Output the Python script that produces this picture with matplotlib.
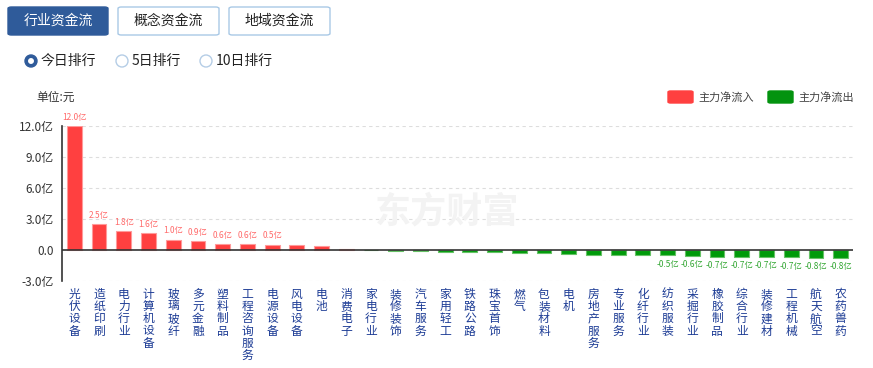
import matplotlib
matplotlib.use("Agg")
import matplotlib.pyplot as plt
from matplotlib.patches import FancyBboxPatch, Ellipse
import numpy as np

plt.rcParams['font.family'] = ['Noto Sans CJK SC', 'DejaVu Sans']

categories = ["光伏设备", "造纸印刷", "电力行业", "计算机设备", "玻璃玻纤", "多元金融", "塑料制品",
              "工程咨询服务", "电源设备", "风电设备", "电池", "消费电子", "家电行业", "装修装饰",
              "汽车服务", "家用轻工", "铁路公路", "珠宝首饰", "燃气", "包装材料", "电机",
              "房地产服务", "专业服务", "化纤行业", "纺织服装", "采掘行业", "橡胶制品", "综合行业",
              "装修建材", "工程机械", "航天航空", "农药兽药"]
values = [12.0, 2.5, 1.8, 1.6, 1.0, 0.9, 0.6, 0.6, 0.52, 0.5, 0.35, 0.05, -0.02, -0.13,
          -0.13, -0.16, -0.23, -0.23, -0.32, -0.32, -0.42, -0.45, -0.45, -0.45, -0.52, -0.6,
          -0.66, -0.68, -0.7, -0.72, -0.76, -0.8]
value_labels = ["12.0亿", "2.5亿", "1.8亿", "1.6亿", "1.0亿", "0.9亿", "0.6亿", "0.6亿", "0.5亿",
                "", "", "", "", "", "", "", "", "", "", "", "", "", "", "",
                "-0.5亿", "-0.6亿", "-0.7亿", "-0.7亿", "-0.7亿", "-0.7亿", "-0.8亿", "-0.8亿"]
yticks = [-3, 0, 3, 6, 9, 12]
ytick_labels = ["-3.0亿", "0.0", "3.0亿", "6.0亿", "9.0亿", "12.0亿"]

W, H = 873, 368
fig = plt.figure(figsize=(W / 100, H / 100), dpi=100)
fig.patch.set_facecolor('white')


def fx(x):
    return x / W


def fy(y):
    return 1 - y / H


# Buttons
btns = [("行业资金流", 8, 108, True), ("概念资金流", 118, 219, False), ("地域资金流", 229, 330, False)]
for txt, x0, x1, active in btns:
    p = FancyBboxPatch((fx(x0), fy(35)), fx(x1 - x0), (35 - 7) / H,
                       boxstyle="round,pad=0,rounding_size=0.004",
                       transform=fig.transFigure,
                       facecolor='#2f5b9a' if active else 'white',
                       edgecolor='#2f5b9a' if active else '#a9c9e6', linewidth=1)
    fig.patches.append(p)
    fig.text(fx((x0 + x1) / 2), fy(21), txt, ha='center', va='center', fontsize=10,
             color='white' if active else '#222222')

# Radio buttons
radios = [("今日排行", 31, True), ("5日排行", 122, False), ("10日排行", 206, False)]
for txt, cx, on in radios:
    if on:
        fig.patches.append(Ellipse((fx(cx), fy(61)), 12 / W, 12 / H, transform=fig.transFigure,
                                   facecolor='#2f5b9a', edgecolor='#2f5b9a'))
        fig.patches.append(Ellipse((fx(cx), fy(61)), 4.5 / W, 4.5 / H, transform=fig.transFigure,
                                   facecolor='white', edgecolor='white'))
    else:
        fig.patches.append(Ellipse((fx(cx), fy(61)), 12 / W, 12 / H, transform=fig.transFigure,
                                   facecolor='white', edgecolor='#b5cde6', linewidth=1))
    fig.text(fx(cx + 10), fy(61), txt, ha='left', va='center', fontsize=10, color='#222222')

# Unit label
fig.text(fx(36), fy(97), "单位:元", ha='left', va='center', fontsize=8.5, color='#333333')

# Legend
for x0, col, txt in [(668, '#ff4040', "主力净流入"), (768, '#03930f', "主力净流出")]:
    p = FancyBboxPatch((fx(x0), fy(103)), fx(25), 12 / H,
                       boxstyle="round,pad=0,rounding_size=0.003",
                       transform=fig.transFigure, facecolor=col, edgecolor=col)
    fig.patches.append(p)
    fig.text(fx(x0 + 30), fy(97), txt, ha='left', va='center', fontsize=8, color='#444444')

# Watermark
fig.text(fx(447), fy(212), "东方财富", ha='center', va='center', fontsize=26,
         fontweight='bold', color='#f3f3f3', zorder=0)

# Axes
ax = fig.add_axes([fx(62), fy(281), fx(853 - 62), (281 - 126) / H])
ax.patch.set_alpha(0)
x = np.arange(len(categories))
colors = ['#ff4040' if v >= 0 else '#009a0a' for v in values]
edges = ['#ff9a9a' if v >= 0 else '#66c266' for v in values]
ax.bar(x, values, width=0.6, color=colors, edgecolor=edges, linewidth=0.8, zorder=3)
ax.set_xlim(-0.5, len(categories) - 0.5)
ax.set_ylim(-3, 12)
ax.set_yticks(yticks)
ax.set_yticklabels(ytick_labels, fontsize=8.5, color='#333333')
ax.tick_params(axis='y', length=0, pad=6)
ax.tick_params(axis='x', length=0)
ax.set_xticks([])
for t in [3, 6, 9, 12, -3]:
    ax.axhline(t, color='#dddddd', linestyle=(0, (3, 3)), linewidth=0.8, zorder=1)
ax.axhline(0, color='#333333', linewidth=1.2, zorder=4)
for s in ['top', 'right', 'bottom']:
    ax.spines[s].set_visible(False)
ax.spines['left'].set_color('#333333')
ax.spines['left'].set_linewidth(1.2)

for i, (v, lab) in enumerate(zip(values, value_labels)):
    if not lab:
        continue
    if v >= 0:
        ax.annotate(lab, (i, v), xytext=(0, 3), textcoords='offset points', ha='center',
                    va='bottom', fontsize=6, color='#ff6a6a')
    else:
        ax.annotate(lab, (i, v), xytext=(0, -3), textcoords='offset points', ha='center',
                    va='top', fontsize=6, color='#33a633')

# Vertical category labels
for i, c in enumerate(categories):
    ax.annotate("\n".join(c), (i, -3), xytext=(0, -5), textcoords='offset points',
                ha='center', va='top', fontsize=8.5, color='#1d3c95', linespacing=0.92,
                annotation_clip=False)

fig.savefig("out.png", dpi=100)
